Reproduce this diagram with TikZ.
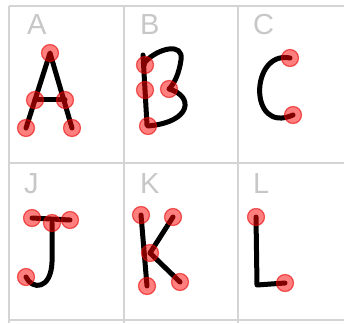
\documentclass[tikz,border=0pt]{standalone}
\usepackage{fontspec}
\setsansfont{Liberation Sans}
\begin{document}
\begin{tikzpicture}[x=1pt, y=-1pt,
    grid/.style={line width=1.6pt, black!17},
    letter/.style={anchor=base west, inner sep=0pt, text=black!22,
      font=\sffamily\fontsize{29}{30}\selectfont},
    stroke/.style={line width=5pt, line cap=round, line join=round, black},
    pt/.style={circle, minimum size=17pt, inner sep=0pt,
      fill=red, fill opacity=0.5, draw=red!90!black, draw opacity=0.6, line width=1.2pt},
    ptdot/.style={circle, minimum size=4pt, inner sep=0pt, fill=red!50!black, opacity=0.85}]
  \useasboundingbox (0,0) rectangle (344,323);
  % Raster
  \draw[grid] (9,6) -- (344,6);
  \draw[grid] (9,163) -- (344,163);
  \draw[grid] (9,320) -- (344,320);
  \foreach \gx in {9,124,238}
    \draw[grid] (\gx,6) -- (\gx,323);
  % Buchstaben
  \node[letter] (labA) at (27,35) {A};
  \node[letter] (labB) at (140,35) {B};
  \node[letter] (labC) at (253,35) {C};
  \node[letter] (labJ) at (24,193) {J};
  \node[letter] (labK) at (140,193) {K};
  \node[letter] (labL) at (253,193) {L};
  % Punkte
  \coordinate (a1) at (50,53);
  \coordinate (a2) at (35,100);
  \coordinate (a3) at (65,100);
  \coordinate (a4) at (26,128);
  \coordinate (a5) at (72,128);
  \coordinate (b1) at (145,65);
  \coordinate (b2) at (145,90);
  \coordinate (b3) at (169,89);
  \coordinate (b4) at (148,126);
  \coordinate (c1) at (290,58);
  \coordinate (c2) at (293,115);
  \coordinate (j1) at (32,218);
  \coordinate (j2) at (52,223);
  \coordinate (j3) at (70,220);
  \coordinate (j4) at (26,277);
  \coordinate (k1) at (141,215);
  \coordinate (k2) at (173,217);
  \coordinate (k3) at (150,253);
  \coordinate (k4) at (147,286);
  \coordinate (k5) at (180,282);
  \coordinate (l1) at (256,217);
  \coordinate (l2) at (285,283);
  % Striche
  \draw[stroke] (a4) -- (a1) -- (a5);
  \draw[stroke] (a2) -- (a3);
  \draw[stroke] (143,55) -- (147,125);
  \draw[stroke] (145,62) .. controls (158,48) and (184,42) .. (181,60)
    .. controls (179,74) and (174,84) .. (b3)
    .. controls (194,96) and (192,122) .. (b4);
  \draw[stroke] (c1) .. controls (250,50) and (248,135) .. (c2);
  \draw[stroke] (j1) -- (j3);
  \draw[stroke] (j2) -- (52,262) .. controls (51,290) and (32,290) .. (j4);
  \draw[stroke] (k1) -- (k4);
  \draw[stroke] (k2) -- (k3) -- (k5);
  \draw[stroke] (l1) -- (257,285) -- (l2);
  % Markierungen
  \foreach \p in {a1,a2,a3,a4,a5,b1,b2,b3,b4,c1,c2,j1,j2,j3,j4,k1,k2,k3,k4,k5,l1,l2} {
    \node[pt] (m-\p) at (\p) {};
    \node[ptdot] (d-\p) at (\p) {};
  }
\end{tikzpicture}
\end{document}
